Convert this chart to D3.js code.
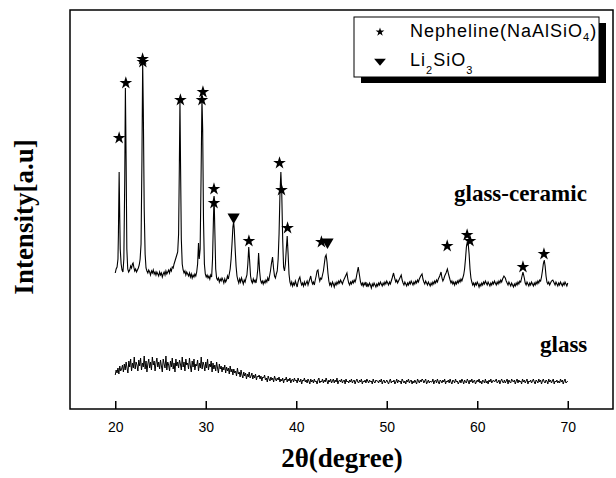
<!DOCTYPE html>
<html>
<head>
<meta charset="utf-8">
<script src="https://cdn.jsdelivr.net/npm/d3@7/dist/d3.min.js"></script>
<style>
body { margin: 0; background: #fff; }
</style>
</head>
<body>
<svg width="616" height="478"></svg>
<script>
// ---- data (2theta in degrees, intensity in arbitrary units) ----
const xTicks = [20, 30, 40, 50, 60, 70]

// glass-ceramic pattern as [2theta, intensity]
const glassCeramic = [
  [20.0,136],[20.1,140],[20.2,142],[20.3,150],[20.35,175],[20.43,237],[20.5,190],[20.55,160],[20.65,145],[20.75,139],
  [20.85,137],[20.95,150],[21.05,230],[21.12,321],[21.2,250],[21.28,160],[21.38,140],[21.48,137],[21.6,139],[21.7,143],
  [21.8,141],[21.9,145],[21.97,146],[22.05,142],[22.15,138],[22.25,140],[22.35,137],[22.45,139],[22.55,141],[22.65,144],
  [22.75,150],[22.85,165],[22.95,250],[23.03,347],[23.1,300],[23.2,200],[23.3,155],[23.4,141],[23.5,138],[23.6,136],
  [23.7,139],[23.8,137],[23.9,134],[24.0,138],[24.1,136],[24.2,139],[24.3,135],[24.4,137],[24.5,134],[24.6,137],
  [24.7,135],[24.8,133],[24.9,137],[25.0,134],[25.1,136],[25.2,132],[25.3,135],[25.4,137],[25.5,134],[25.6,138],
  [25.7,135],[25.8,137],[25.9,139],[26.0,136],[26.1,140],[26.2,138],[26.3,142],[26.4,141],[26.5,145],[26.6,148],
  [26.7,151],[26.8,154],[26.9,157],[27.0,175],[27.08,240],[27.15,309],[27.22,240],[27.3,170],[27.4,145],[27.5,139],
  [27.6,136],[27.7,138],[27.8,134],[27.9,137],[28.0,135],[28.1,133],[28.2,136],[28.3,132],[28.4,135],[28.5,131],
  [28.6,134],[28.7,132],[28.8,135],[28.9,133],[29.0,137],[29.1,145],[29.2,166],[29.28,150],[29.38,160],[29.48,230],
  [29.58,311],[29.66,280],[29.75,190],[29.85,145],[29.95,135],[30.05,132],[30.15,134],[30.25,131],[30.35,133],[30.45,130],
  [30.55,134],[30.65,132],[30.75,150],[30.85,190],[30.92,213],[31.0,180],[31.1,140],[31.2,131],[31.3,129],[31.4,131],
  [31.5,127],[31.6,130],[31.7,128],[31.8,131],[31.9,129],[32.0,126],[32.1,130],[32.2,127],[32.3,129],[32.4,133],
  [32.5,130],[32.6,135],[32.7,140],[32.8,150],[32.9,165],[33.0,182],[33.08,187],[33.15,180],[33.25,160],[33.35,143],
  [33.45,133],[33.55,129],[33.65,126],[33.75,130],[33.85,127],[33.95,131],[34.05,128],[34.15,125],[34.25,129],[34.35,127],
  [34.45,131],[34.55,134],[34.65,145],[34.75,162],[34.85,148],[34.95,133],[35.05,128],[35.15,126],[35.25,130],[35.35,127],
  [35.45,129],[35.55,126],[35.65,131],[35.75,140],[35.84,156],[35.95,138],[36.05,129],[36.15,126],[36.25,128],[36.35,125],
  [36.45,128],[36.55,126],[36.65,129],[36.75,127],[36.85,131],[36.95,128],[37.05,133],[37.15,138],[37.25,145],[37.38,152],
  [37.5,140],[37.6,133],[37.7,131],[37.8,135],[37.9,138],[38.0,150],[38.1,175],[38.2,215],[38.3,237],[38.4,215],
  [38.5,170],[38.6,142],[38.7,138],[38.8,145],[38.9,160],[39.0,173],[39.1,155],[39.2,135],[39.3,127],[39.4,124],
  [39.5,127],[39.6,123],[39.7,126],[39.8,124],[39.9,128],[40.0,125],[40.1,122],[40.2,127],[40.3,130],[40.4,132],
  [40.5,127],[40.6,124],[40.7,126],[40.8,123],[40.9,127],[41.0,124],[41.1,126],[41.2,128],[41.3,124],[41.4,127],
  [41.5,130],[41.6,133],[41.7,128],[41.8,125],[41.9,127],[42.0,124],[42.1,129],[42.2,133],[42.3,138],[42.4,139],
  [42.5,132],[42.6,128],[42.7,131],[42.8,130],[42.9,134],[43.0,138],[43.1,145],[43.2,152],[43.3,154],[43.4,147],
  [43.5,136],[43.6,128],[43.7,124],[43.8,126],[43.9,123],[44.0,127],[44.1,125],[44.2,122],[44.3,126],[44.4,124],
  [44.5,127],[44.6,125],[44.7,128],[44.8,126],[44.9,129],[45.0,127],[45.1,125],[45.2,128],[45.3,130],[45.45,133],
  [45.6,136],[45.7,130],[45.8,126],[45.9,124],[46.0,127],[46.1,125],[46.2,128],[46.3,126],[46.4,129],[46.5,127],
  [46.6,130],[46.7,135],[46.85,142],[47.0,133],[47.1,127],[47.2,124],[47.3,126],[47.4,123],[47.5,126],[47.6,124],
  [47.7,127],[47.8,122],[47.9,125],[48.0,123],[48.1,126],[48.2,124],[48.3,121],[48.4,125],[48.5,123],[48.6,126],
  [48.7,124],[48.8,122],[48.9,125],[49.0,123],[49.1,126],[49.2,124],[49.3,127],[49.4,125],[49.5,123],[49.6,126],
  [49.7,124],[49.8,127],[49.9,125],[50.0,128],[50.1,126],[50.2,124],[50.3,127],[50.4,125],[50.5,128],[50.6,131],
  [50.75,136],[50.9,130],[51.0,127],[51.1,129],[51.2,126],[51.3,128],[51.45,131],[51.6,134],[51.7,129],[51.8,126],
  [51.9,124],[52.0,127],[52.1,125],[52.2,123],[52.3,126],[52.4,124],[52.5,127],[52.6,125],[52.7,128],[52.8,126],
  [52.9,124],[53.0,127],[53.1,125],[53.2,128],[53.3,126],[53.4,129],[53.5,127],[53.6,130],[53.75,133],[53.9,135],
  [54.0,130],[54.1,127],[54.2,125],[54.3,128],[54.4,126],[54.5,124],[54.6,127],[54.7,125],[54.8,123],[54.9,126],
  [55.0,124],[55.1,127],[55.2,125],[55.3,128],[55.4,126],[55.5,129],[55.6,127],[55.7,130],[55.85,133],[56.0,137],
  [56.1,131],[56.2,128],[56.3,130],[56.4,133],[56.55,136],[56.7,140],[56.85,134],[57.0,129],[57.1,126],[57.2,128],
  [57.3,125],[57.4,127],[57.5,124],[57.6,127],[57.7,125],[57.8,128],[57.9,126],[58.0,129],[58.1,127],[58.2,130],
  [58.3,128],[58.4,131],[58.5,134],[58.6,140],[58.7,150],[58.8,162],[58.9,167],[59.0,165],[59.1,155],[59.2,140],
  [59.3,131],[59.4,127],[59.5,124],[59.6,126],[59.7,123],[59.8,126],[59.9,124],[60.0,127],[60.1,125],[60.2,122],
  [60.3,125],[60.4,123],[60.5,126],[60.6,124],[60.7,127],[60.8,125],[60.9,128],[61.0,126],[61.1,124],[61.2,127],
  [61.3,125],[61.4,123],[61.5,126],[61.6,124],[61.7,127],[61.8,125],[61.9,128],[62.0,126],[62.1,124],[62.2,127],
  [62.3,125],[62.4,128],[62.5,126],[62.6,129],[62.7,127],[62.8,130],[62.95,133],[63.1,131],[63.2,128],[63.3,126],
  [63.4,124],[63.5,127],[63.6,125],[63.7,123],[63.8,126],[63.9,124],[64.0,122],[64.1,125],[64.2,123],[64.3,126],
  [64.4,124],[64.5,127],[64.6,125],[64.7,128],[64.8,127],[64.9,131],[65.05,137],[65.2,131],[65.3,126],[65.4,124],
  [65.5,127],[65.6,125],[65.7,123],[65.8,126],[65.9,124],[66.0,127],[66.1,125],[66.2,123],[66.3,126],[66.4,124],
  [66.5,127],[66.6,125],[66.7,128],[66.8,126],[66.9,129],[67.0,128],[67.1,132],[67.2,138],[67.3,145],[67.4,149],
  [67.5,143],[67.6,133],[67.7,127],[67.8,125],[67.9,127],[68.0,124],[68.1,126],[68.2,128],[68.35,129],[68.5,126],
  [68.6,124],[68.7,127],[68.8,125],[68.9,123],[69.0,126],[69.1,124],[69.2,127],[69.3,125],[69.4,123],[69.5,126],
  [69.6,124],[69.7,127],[69.8,125],[69.9,123],[70.0,126]
]

// glass pattern, scanned from 20 to 70 deg with a 0.1 deg step (one row per degree)
const glassStart = 20
const glassStep = 0.1
const glassValues = [
  34,39,36,41,35,43,38,40,44,37,
  45,39,47,41,36,48,42,50,38,46,
  41,52,40,47,44,38,49,43,51,39,
  46,42,53,40,48,37,45,50,41,47,
  39,52,44,48,38,46,51,42,47,40,
  49,43,37,50,45,41,53,39,47,44,
  38,48,42,51,40,46,37,50,43,47,
  41,49,45,39,52,42,47,38,50,44,
  46,40,51,43,37,48,42,50,39,45,
  43,49,38,46,41,52,40,47,44,38,
  47,41,50,39,45,42,48,37,46,40,
  44,38,47,41,36,45,40,43,37,42,
  39,44,36,42,38,41,35,43,37,40,
  34,40,36,38,33,41,35,37,32,39,
  34,31,37,33,36,30,35,32,37,31,
  33,36,30,34,31,35,29,33,32,34,
  30,33,28,32,31,34,29,31,27,33,
  30,28,32,29,31,27,33,30,28,31,
  29,32,27,30,28,31,26,30,29,32,
  27,30,28,31,26,29,30,27,31,28,
  29,26,31,28,27,30,25,29,28,31,
  27,29,26,30,28,25,30,27,29,26,
  30,27,28,25,29,31,26,28,27,30,
  26,29,27,31,28,25,29,27,30,26,
  28,30,26,29,27,31,25,28,29,27,
  30,26,28,29,25,30,27,28,26,29,
  27,30,26,28,29,25,28,30,27,26,
  29,27,30,25,28,27,29,26,30,28,
  26,29,27,28,25,30,27,26,29,28,
  28,26,29,27,30,25,28,29,26,27,
  29,27,25,28,30,26,28,27,29,25,
  27,30,26,29,27,28,25,30,28,26,
  28,25,29,27,30,26,28,29,25,28,
  26,29,27,25,30,28,26,29,27,30,
  29,26,28,30,25,27,29,26,28,27,
  27,30,25,28,29,26,30,27,25,29,
  28,26,29,27,30,25,28,27,29,26,
  30,27,25,29,28,26,30,27,28,25,
  27,29,26,30,28,25,29,27,26,30,
  28,25,29,27,30,26,28,29,25,27,
  29,27,30,26,28,25,29,28,26,30,
  26,28,25,29,27,30,26,28,29,27,
  28,30,26,27,29,25,28,30,27,26,
  29,26,28,30,25,29,27,26,30,28,
  27,29,25,28,30,26,29,27,28,25,
  30,27,29,26,28,30,25,28,27,29,
  26,28,30,27,25,29,28,26,30,27,
  29,25,28,30,27,26,29,28,25,30,
  27,29,26,28,30,25,28,27,29,26,
  28,26,30,27,29,25,28,30,26,27,
  28
]

// phase marks [2theta, intensity]
const nephelineMarks = [
  [20.43,271],[21.17,326],[23.02,350],[23.05,347],[27.2,309],[29.69,317],[29.58,309],
  [30.91,220],[30.91,206],[34.77,168],[38.15,246],[38.37,219],[39.04,181],[42.78,167],
  [56.68,163],[58.88,174],[59.2,168],[65.05,142],[67.37,155]
]
const li2sio3Marks = [[33.08,192],[43.45,167]]

// ---- layout ----
const margin = {top: 10, right: 3, bottom: 69, left: 70}
const width = 616 - margin.left - margin.right
const height = 478 - margin.top - margin.bottom

const svg = d3.select("svg")
const g = svg.append("g")
    .attr("transform", `translate(${margin.left},${margin.top})`)

const x = d3.scaleLinear()
    .domain([15, 75])
    .range([0, width])

const y = d3.scaleLinear()
    .domain([0, 399])
    .range([height, 0])

const line = d3.line()
    .x(d => x(d[0]))
    .y(d => y(d[1]))

const glass = glassValues.map((v, i) => [glassStart + i * glassStep, v])

// traces
g.append("path")
    .datum(glass)
    .attr("d", line)
    .attr("fill", "none")
    .attr("stroke", "#000")
    .attr("stroke-width", 1)

g.append("path")
    .datum(glassCeramic)
    .attr("d", line)
    .attr("fill", "none")
    .attr("stroke", "#000")
    .attr("stroke-width", 1.1)

// markers
g.selectAll(".neph")
    .data(nephelineMarks)
    .enter().append("path")
    .attr("class", "neph")
    .attr("d", d3.symbol(d3.symbolStar, 50))
    .attr("transform", d => `translate(${x(d[0])},${y(d[1])})`)
    .attr("fill", "#000")

g.selectAll(".li")
    .data(li2sio3Marks)
    .enter().append("path")
    .attr("class", "li")
    .attr("d", d3.symbol(d3.symbolTriangle, 65))
    .attr("transform", d => `translate(${x(d[0])},${y(d[1])}) rotate(180)`)
    .attr("fill", "#000")

// frame
g.append("rect")
    .attr("width", width)
    .attr("height", height)
    .attr("fill", "none")
    .attr("stroke", "#000")
    .attr("stroke-width", 1.5)

// x axis, ticks pointing inward
const xAxis = g.append("g")
    .attr("transform", `translate(0,${height})`)
    .call(d3.axisBottom(x).tickValues(xTicks).tickSize(-8).tickPadding(13))
xAxis.select(".domain").remove()
xAxis.selectAll(".tick line").attr("stroke", "#000").attr("stroke-width", 1.5)
xAxis.selectAll(".tick text")
    .attr("fill", "#000")
    .style("font-family", "'Liberation Sans', Arial, sans-serif")
    .style("font-size", "14px")

// axis titles
const serif = "'Liberation Serif', 'Times New Roman', serif"
svg.append("text")
    .attr("x", 342)
    .attr("y", 467)
    .attr("text-anchor", "middle")
    .style("font-family", serif)
    .style("font-weight", "bold")
    .style("font-size", "27px")
    .text("2θ(degree)")

svg.append("text")
    .attr("transform", "translate(33,217) rotate(-90)")
    .attr("text-anchor", "middle")
    .style("font-family", serif)
    .style("font-weight", "bold")
    .style("font-size", "27px")
    .text("Intensity[a.u]")

// series labels
svg.append("text")
    .attr("x", 454).attr("y", 201)
    .style("font-family", serif).style("font-weight", "bold").style("font-size", "23px")
    .text("glass-ceramic")
svg.append("text")
    .attr("x", 540).attr("y", 352)
    .style("font-family", serif).style("font-weight", "bold").style("font-size", "23px")
    .text("glass")

// legend with drop shadow
const legend = svg.append("g")
legend.append("rect")
    .attr("x", 361).attr("y", 23)
    .attr("width", 245).attr("height", 60)
    .attr("fill", "#000")
legend.append("rect")
    .attr("x", 354).attr("y", 17)
    .attr("width", 245).attr("height", 60)
    .attr("fill", "#fff")
    .attr("stroke", "#000")
    .attr("stroke-width", 1)

legend.append("path")
    .attr("d", d3.symbol(d3.symbolStar, 24))
    .attr("transform", "translate(380,32)")
legend.append("path")
    .attr("d", d3.symbol(d3.symbolTriangle, 50))
    .attr("transform", "translate(380,61) rotate(180) scale(1.1,0.75)")

const sans = "'Liberation Sans', Arial, sans-serif"
const t1 = legend.append("text")
    .attr("x", 410).attr("y", 37)
    .style("font-family", sans).style("font-size", "18px")
    .style("letter-spacing", "1px")
t1.append("tspan").text("Nepheline(NaAlSiO")
t1.append("tspan").attr("dy", 4).style("font-size", "11px").text("4")
t1.append("tspan").attr("dy", -4).text(")")

const t2 = legend.append("text")
    .attr("x", 410).attr("y", 66)
    .style("font-family", sans).style("font-size", "18px")
    .style("letter-spacing", "1px")
t2.append("tspan").text("Li")
t2.append("tspan").attr("dy", 8).style("font-size", "11px").text("2")
t2.append("tspan").attr("dy", -8).text("SiO")
t2.append("tspan").attr("dy", 8).style("font-size", "11px").text("3")
</script>
</body>
</html>
